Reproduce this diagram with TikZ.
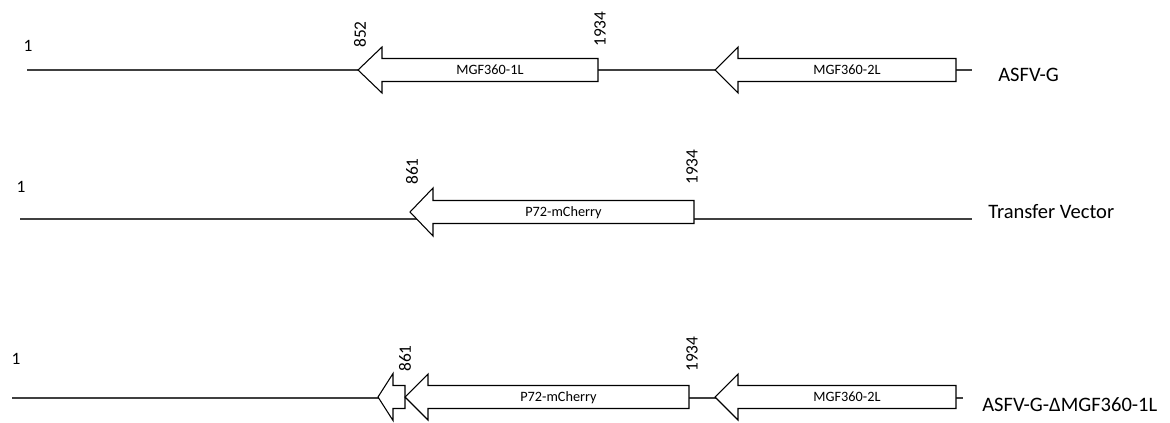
\documentclass[tikz,border=0pt]{standalone}
\usepackage{fontspec}
\setmainfont{Carlito}
\usetikzlibrary{positioning}
\tikzset{
  genebox/.style   ={draw=black, fill=white, line width=0.8pt, line join=miter},
  backbone/.style  ={draw=black!75, line width=0.9pt},
  genelabel/.style ={font=\fontsize{10.7}{12}\selectfont, inner sep=0pt, anchor=base},
  poslabel/.style  ={font=\fontsize{13}{15}\selectfont, rotate=90, anchor=west, inner sep=0pt},
  startlabel/.style={font=\fontsize{13}{15}\selectfont, inner sep=0pt},
  rowlabel/.style  ={font=\fontsize{15.4}{18}\selectfont, anchor=west, inner sep=0pt},
}
% gene arrow pointing left: name, tip x, head back x, right x, centre y, head half width, label
\newcommand{\genearrow}[7]{%
  \draw[genebox] (#2,#5) -- (#3,#5-#6) -- (#3,#5-11.5) -- (#4,#5-11.5)
     -- (#4,#5+11.5) -- (#3,#5+11.5) -- (#3,#5+#6) -- cycle;
  \node[genelabel] (#1) at ({(#3+#4)/2},#5+4.6) {#7};}

\begin{document}
\begin{tikzpicture}[x=0.75pt, y=-0.75pt]
  \useasboundingbox (0,0) rectangle (1170,422);
  % ASFV-G
  \coordinate (s1) at (27,70); \coordinate (e1) at (972,70);
  \draw[backbone] (s1) -- (e1);
  \genearrow{mgfA}{358}{382}{598}{70}{23}{MGF360-1L}
  \genearrow{mgfB}{715}{738}{956}{70}{23}{MGF360-2L}
  \node[startlabel] (one1) at (28,46) {1};
  \node[poslabel] (p852) at (360,48) {852};
  \node[poslabel] (p1934a) at (600,47) {1934};
  \node[rowlabel] (asfv) at (998,75) {ASFV-G};
  % transfer vector
  \coordinate (s2) at (20,219); \coordinate (e2) at (972,219);
  \draw[backbone] (s2) -- (e2);
  \genearrow{cherryA}{410}{433}{694}{212}{24}{P72-mCherry}
  \node[startlabel] (one2) at (21,187) {1};
  \node[poslabel] (p861a) at (412,185) {861};
  \node[poslabel] (p1934b) at (692,185) {1934};
  \node[rowlabel] (vector) at (988,212) {Transfer Vector};
  % deletion mutant
  \coordinate (s3) at (12,398); \coordinate (e3) at (963,398);
  \draw[backbone] (s3) -- (e3);
  \genearrow{stub}{378}{393}{405}{397}{23.5}{}
  \genearrow{cherryB}{405}{428}{689}{397}{23}{P72-mCherry}
  \genearrow{mgfC}{715}{738}{956}{397}{23}{MGF360-2L}
  \node[startlabel] (one3) at (16,359) {1};
  \node[poslabel] (p861b) at (405,372) {861};
  \node[poslabel] (p1934c) at (692,372) {1934};
  \node[rowlabel] (mutant) at (982,405) {ASFV-G-ΔMGF360-1L};
\end{tikzpicture}
\end{document}
